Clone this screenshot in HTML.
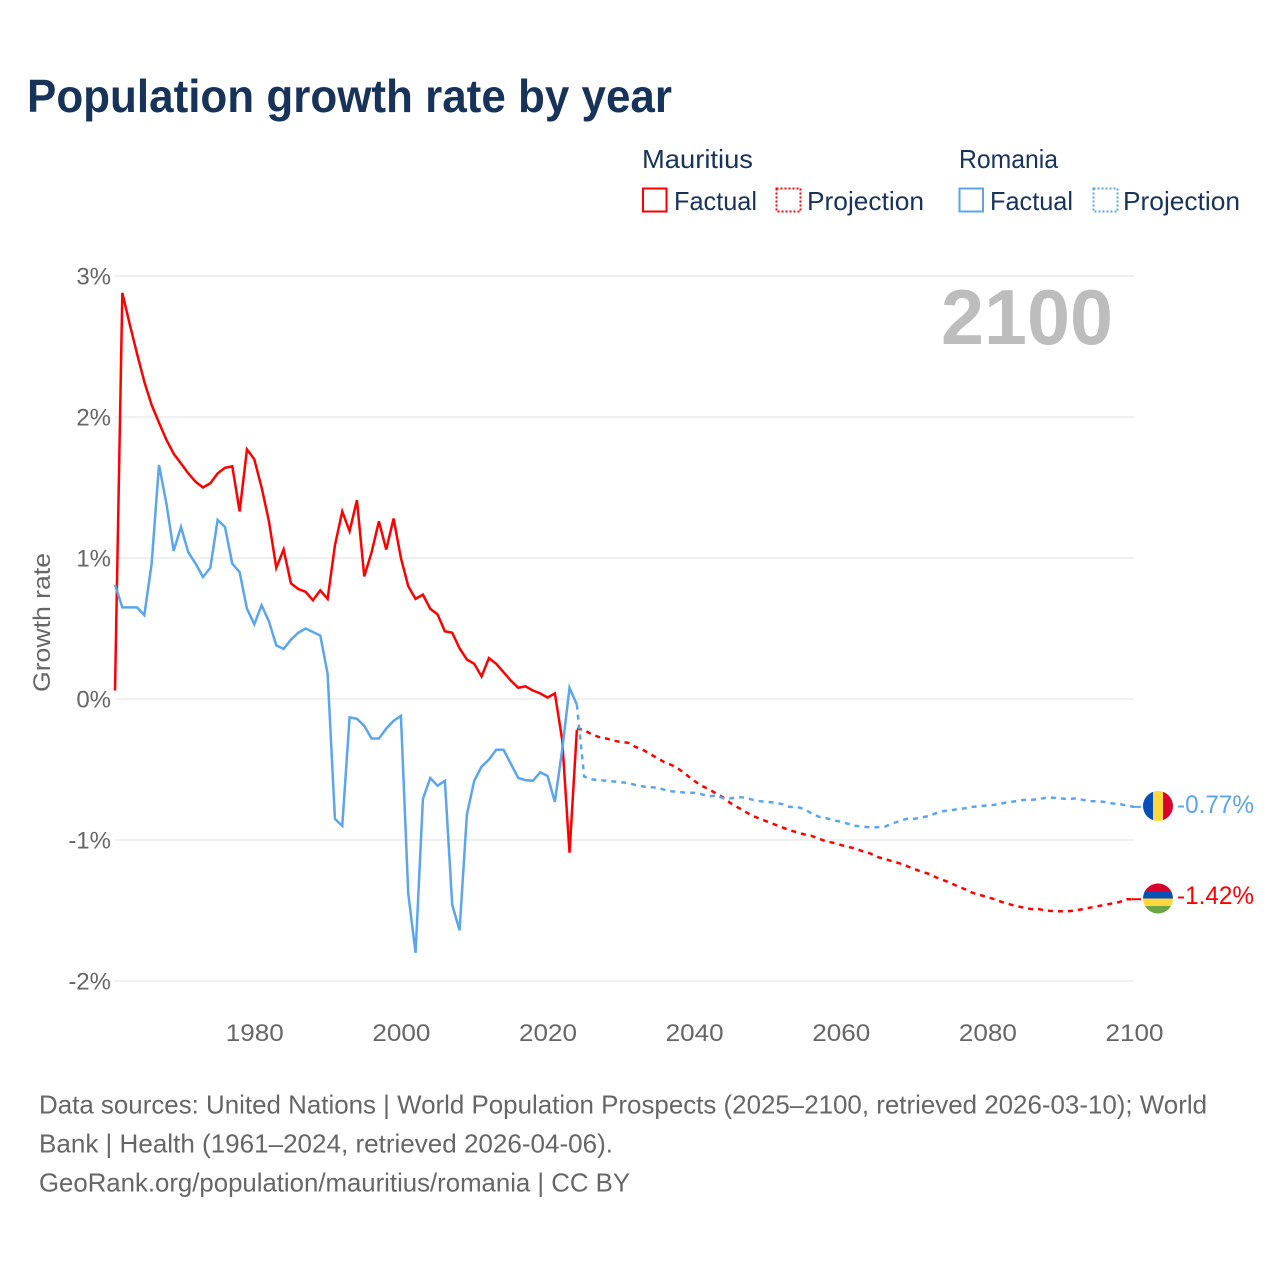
<!DOCTYPE html>
<html lang="en">
<head>
<meta charset="utf-8">
<title>Population growth rate by year</title>
<style>
html,body{margin:0;padding:0;background:#fff;width:1280px;height:1280px;overflow:hidden}
svg{display:block}
text{font-family:"Liberation Sans",sans-serif}
</style>
</head>
<body>
<svg id="chart" width="1280" height="1280" viewBox="0 0 1280 1280" xmlns="http://www.w3.org/2000/svg">
  <defs>
    <clipPath id="flag-clip-ro"><circle cx="1158" cy="806" r="15"/></clipPath>
    <clipPath id="flag-clip-mu"><circle cx="1158" cy="898.5" r="15"/></clipPath>
  </defs>
  <rect x="0" y="0" width="1280" height="1280" fill="#fff"/>
  <text x="27" y="112" font-size="46" font-weight="700" fill="#17335a" textLength="645" lengthAdjust="spacingAndGlyphs">Population growth rate by year</text>

  <g font-size="26" fill="#17335a">
    <text x="642" y="168" textLength="111" lengthAdjust="spacingAndGlyphs">Mauritius</text>
    <rect x="643" y="188.500" width="23.500" height="23" fill="none" stroke="#ff0000" stroke-width="2"/>
    <text x="674" y="210" textLength="83" lengthAdjust="spacingAndGlyphs">Factual</text>
    <rect x="776.500" y="188.500" width="24" height="23" fill="none" stroke="#ff0000" stroke-width="2" stroke-dasharray="2 2"/>
    <text x="807" y="210" textLength="117" lengthAdjust="spacingAndGlyphs">Projection</text>
    <text x="959" y="168" textLength="99" lengthAdjust="spacingAndGlyphs">Romania</text>
    <rect x="959.500" y="188.500" width="23.500" height="23" fill="none" stroke="#5ba5ef" stroke-width="2"/>
    <text x="990" y="210" textLength="83" lengthAdjust="spacingAndGlyphs">Factual</text>
    <rect x="1093.500" y="188.500" width="24" height="23" fill="none" stroke="#5ba5ef" stroke-width="2" stroke-dasharray="2 2"/>
    <text x="1123" y="210" textLength="117" lengthAdjust="spacingAndGlyphs">Projection</text>
  </g>

  <g id="grid"></g>
  <g id="y-ticks"></g>
  <g id="x-ticks"></g>
  <text transform="translate(50,622.500) rotate(-90)" text-anchor="middle" font-size="24" fill="#666666" textLength="139" lengthAdjust="spacingAndGlyphs">Growth rate</text>
  <text x="941" y="344" font-size="78" font-weight="700" fill="#bdbdbd" textLength="172" lengthAdjust="spacingAndGlyphs">2100</text>
  <g id="series"></g>

  <g clip-path="url(#flag-clip-ro)">
    <rect x="1143" y="791" width="10" height="30" fill="#0a4fb5"/>
    <rect x="1153" y="791" width="10" height="30" fill="#ffd83e"/>
    <rect x="1163" y="791" width="10" height="30" fill="#d8002c"/>
  </g>
  <g clip-path="url(#flag-clip-mu)">
    <rect x="1143" y="883.500" width="30" height="7.500" fill="#d8002c"/>
    <rect x="1143" y="891" width="30" height="7.500" fill="#0a4fb5"/>
    <rect x="1143" y="898.500" width="30" height="7.500" fill="#ffd83e"/>
    <rect x="1143" y="906" width="30" height="7.500" fill="#6da544"/>
  </g>
  <text x="1177" y="813" font-size="25" fill="#5ba5ef" textLength="77" lengthAdjust="spacingAndGlyphs">-0.77%</text>
  <text x="1177" y="904" font-size="25" fill="#ff0000" textLength="77" lengthAdjust="spacingAndGlyphs">-1.42%</text>

  <g font-size="26" fill="#666666">
    <text x="39" y="1113.500" textLength="1168" lengthAdjust="spacingAndGlyphs">Data sources: United Nations | World Population Prospects (2025–2100, retrieved 2026-03-10); World</text>
    <text x="39" y="1152.500" textLength="574" lengthAdjust="spacingAndGlyphs">Bank | Health (1961–2024, retrieved 2026-04-06).</text>
    <text x="39" y="1191.500" textLength="591" lengthAdjust="spacingAndGlyphs">GeoRank.org/population/mauritius/romania | CC BY</text>
  </g>
</svg>
<script>
const yTickValues = [3, 2, 1, 0, -1, -2];
const xTickYears = [1980, 2000, 2020, 2040, 2060, 2080, 2100];
const factualStartYear = 1961;
const projectionStartYear = 2024;
const mauritiusFactual = [0.06,2.88,2.66,2.45,2.25,2.085,1.96,1.84,1.74,1.67,1.60,1.54,1.50,1.53,1.60,1.64,1.65,1.33,1.77,1.70,1.50,1.26,0.93,1.06,0.82,0.78,0.76,0.70,0.77,0.71,1.09,1.33,1.19,1.41,0.87,1.04,1.26,1.06,1.28,1.00,0.80,0.71,0.74,0.64,0.60,0.48,0.47,0.36,0.28,0.25,0.16,0.29,0.25,0.19,0.13,0.08,0.09,0.06,0.04,0.01,0.04,-0.29,-1.09,-0.22];
const romaniaFactual = [0.81,0.65,0.65,0.65,0.595,0.96,1.66,1.39,1.05,1.22,1.04,0.96,0.865,0.93,1.27,1.22,0.96,0.90,0.64,0.53,0.665,0.55,0.38,0.355,0.42,0.47,0.50,0.475,0.45,0.18,-0.85,-0.90,-0.13,-0.14,-0.19,-0.28,-0.28,-0.21,-0.155,-0.12,-1.38,-1.80,-0.71,-0.56,-0.615,-0.58,-1.46,-1.64,-0.82,-0.58,-0.48,-0.43,-0.36,-0.36,-0.46,-0.56,-0.575,-0.58,-0.52,-0.545,-0.73,-0.36,0.08,-0.04];
const mauritiusProjection = [-0.21,-0.22,-0.25,-0.27,-0.28,-0.295,-0.305,-0.31,-0.34,-0.36,-0.39,-0.42,-0.45,-0.47,-0.50,-0.54,-0.58,-0.615,-0.64,-0.67,-0.70,-0.74,-0.77,-0.80,-0.83,-0.85,-0.87,-0.89,-0.91,-0.93,-0.945,-0.96,-0.97,-0.99,-1.01,-1.02,-1.035,-1.05,-1.06,-1.08,-1.095,-1.12,-1.135,-1.15,-1.165,-1.185,-1.205,-1.225,-1.24,-1.265,-1.285,-1.305,-1.33,-1.35,-1.375,-1.39,-1.405,-1.42,-1.44,-1.455,-1.47,-1.48,-1.49,-1.49,-1.50,-1.505,-1.505,-1.505,-1.50,-1.49,-1.48,-1.47,-1.46,-1.45,-1.44,-1.42,-1.42];
const romaniaProjection = [-0.04,-0.55,-0.57,-0.575,-0.58,-0.585,-0.59,-0.595,-0.61,-0.62,-0.625,-0.63,-0.645,-0.655,-0.66,-0.665,-0.665,-0.675,-0.69,-0.685,-0.705,-0.705,-0.695,-0.70,-0.715,-0.725,-0.73,-0.735,-0.745,-0.765,-0.765,-0.78,-0.81,-0.835,-0.845,-0.86,-0.87,-0.885,-0.90,-0.905,-0.91,-0.91,-0.905,-0.885,-0.865,-0.85,-0.85,-0.84,-0.83,-0.81,-0.795,-0.79,-0.78,-0.775,-0.765,-0.76,-0.755,-0.75,-0.74,-0.73,-0.725,-0.715,-0.715,-0.71,-0.70,-0.70,-0.705,-0.71,-0.705,-0.715,-0.725,-0.725,-0.73,-0.74,-0.745,-0.755,-0.765];

const SVG_NS = 'http://www.w3.org/2000/svg';
function xScale(year) { return 115 + (year - 1961) * (1134 - 115) / (2100 - 1961); }
function yScale(value) { return 699 - value * 141; }
function pathFor(values, startYear) {
  return values.map(function (v, i) {
    return (i ? 'L' : 'M') + xScale(startYear + i).toFixed(2) + ' ' + yScale(v).toFixed(2);
  }).join(' ');
}

const gridGroup = document.getElementById('grid');
const yGroup = document.getElementById('y-ticks');
const xGroup = document.getElementById('x-ticks');
const seriesGroup = document.getElementById('series');

yTickValues.forEach(function (v) {
  const line = document.createElementNS(SVG_NS, 'line');
  
  
  line.setAttribute('x1', 115);
  line.setAttribute('x2', 1134);
  line.setAttribute('y1', yScale(v));
  line.setAttribute('y2', yScale(v));
  line.setAttribute('stroke', '#ececec');
  line.setAttribute('stroke-width', 1.5);
  gridGroup.appendChild(line);

  const label = document.createElementNS(SVG_NS, 'text');
  
  
  label.setAttribute('x', 111);
  label.setAttribute('y', yScale(v) + 8.5);
  label.setAttribute('text-anchor', 'end');
  label.setAttribute('font-size', 24);
  label.setAttribute('fill', '#666666');
  label.textContent = v + '%';
  yGroup.appendChild(label);
});

xTickYears.forEach(function (year) {
  const label = document.createElementNS(SVG_NS, 'text');
  
  
  label.setAttribute('x', xScale(year) + 0.5);
  label.setAttribute('y', 1041);
  label.setAttribute('text-anchor', 'middle');
  label.setAttribute('font-size', 24);
  label.setAttribute('fill', '#666666');
  label.setAttribute('textLength', 58);
  label.setAttribute('lengthAdjust', 'spacingAndGlyphs');
  label.textContent = year;
  xGroup.appendChild(label);
});

function drawLine(values, startYear, color, dashed, name) {
  const path = document.createElementNS(SVG_NS, 'path');
  
  
  path.setAttribute('d', pathFor(values, startYear));
  path.setAttribute('fill', 'none');
  path.setAttribute('stroke', color);
  path.setAttribute('stroke-width', 2.5);
  path.setAttribute('stroke-linejoin', 'miter');
  if (dashed) path.setAttribute('stroke-dasharray', '5 5');
  seriesGroup.appendChild(path);
}

function drawConnector(value, color, name) {
  const line = document.createElementNS(SVG_NS, 'line');
  
  
  line.setAttribute('x1', xScale(2100) - 2);
  line.setAttribute('x2', xScale(2100) + 7);
  line.setAttribute('y1', yScale(value));
  line.setAttribute('y2', yScale(value));
  line.setAttribute('stroke', color);
  line.setAttribute('stroke-width', 2);
  seriesGroup.appendChild(line);
}

drawLine(mauritiusFactual, factualStartYear, '#ff0000', false, 'mauritius-factual-line');
drawLine(mauritiusProjection, projectionStartYear, '#ff0000', true, 'mauritius-projection-line');
drawLine(romaniaFactual, factualStartYear, '#5ba5ef', false, 'romania-factual-line');
drawLine(romaniaProjection, projectionStartYear, '#5ba5ef', true, 'romania-projection-line');
drawConnector(mauritiusProjection[mauritiusProjection.length - 1], '#ff0000', 'mauritius-flag-connector');
drawConnector(romaniaProjection[romaniaProjection.length - 1], '#5ba5ef', 'romania-flag-connector');
</script>
</body>
</html>
